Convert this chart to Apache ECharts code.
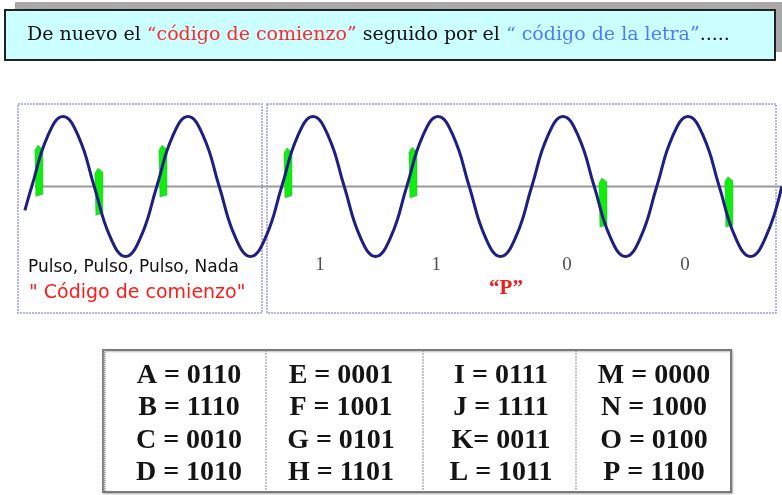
<!DOCTYPE html>
<html>
<head>
<meta charset="utf-8">
<script src="https://cdn.jsdelivr.net/npm/echarts@6/dist/echarts.min.js"></script>
<style>html,body{margin:0;padding:0;background:#fff}#c{width:782px;height:495px}</style>
</head>
<body>
<div id="c"></div>
<script>
// Carrier wave, time in quarter-cycles, amplitude normalised to 1
var waveT = [-0.22, 0,0.5,1,1.5,2,2.5,3,3.5, 4,4.5,5,5.5,6,6.5,7,7.5, 8,8.5,9,9.5,10,10.5,11,11.5,
  12,12.5,13,13.5,14,14.5,15,15.5, 16,16.5,17,17.5,18,18.5,19,19.5, 20,20.5,21,21.5,22,22.5,23,23.5, 24];
var waveV = [-0.34, 0,0.71,1,0.71,0,-0.71,-1,-0.71, 0,0.71,1,0.71,0,-0.71,-1,-0.71, 0,0.71,1,0.71,0,-0.71,-1,-0.71,
  0,0.71,1,0.71,0,-0.71,-1,-0.71, 0,0.71,1,0.71,0,-0.71,-1,-0.71, 0,0.71,1,0.71,0,-0.71,-1,-0.71, 0];
// Green pulses: start time, top value, bottom value
var pulseT   = [0.10, 2.02, 4.07, 8.07, 12.07, 18.15, 22.18];
var pulseTop = [0.59, 0.26, 0.59, 0.55, 0.56, 0.12, 0.14];
var pulseBot = [-0.14, -0.41, -0.15, -0.16, -0.16, -0.58, -0.58];
// Bits of the letter "P"
var bitT = [9.22, 12.94, 17.13, 20.9];
var bitLabels = ['1', '1', '0', '0'];
// Code table
var tableEntries = [
  ['A = 0110', 'B = 1110', 'C = 0010', 'D = 1010'],
  ['E = 0001', 'F = 1001', 'G = 0101', 'H = 1101'],
  ['I = 0111', 'J = 1111', 'K= 0011', 'L = 1011'],
  ['M = 0000', 'N = 1000', 'O = 0100', 'P = 1100']
];
var titleParts = ['De nuevo el ', '“código de comienzo”', ' seguido por el ', '“ código de la letra”', '.....'];
var startTexts = ['Pulso, Pulso, Pulso, Nada', '" Código de comienzo"'];
var letterLabel = '“P”';

var chart = echarts.init(document.getElementById('c'), null, {renderer: 'canvas'});

var waveData = waveT.map(function (t, i) { return [t, waveV[i]]; });
var pulseData = pulseT.map(function (t, i) { return [t, pulseTop[i], pulseBot[i]]; });
var bitData = bitT.map(function (t, i) { return [t, -1.12, bitLabels[i]]; });

var graphics = [];
// title shadow + box
graphics.push({type: 'rect', z: 1, shape: {x: 15, y: 2, width: 768, height: 50}, style: {fill: '#a8a8a8'}});
graphics.push({type: 'rect', z: 2, shape: {x: 5, y: 10, width: 770, height: 50}, style: {fill: '#ccffff', stroke: '#222', lineWidth: 2}});
graphics.push({type: 'text', z: 3, style: {
  x: 27, y: 35, textVerticalAlign: 'middle', verticalAlign: 'middle',
  text: '{k|' + titleParts[0] + '}{r|' + titleParts[1] + '}{k|' + titleParts[2] + '}{b|' + titleParts[3] + '}{k|' + titleParts[4] + '}',
  rich: {
    k: {fill: '#111', font: '19px "DejaVu Serif"'},
    r: {fill: '#ff2a2a', font: '19px "DejaVu Serif"'},
    b: {fill: '#4a7cff', font: '19px "DejaVu Serif"'}
  }
}});
// panels
graphics.push({type: 'rect', z: 0, shape: {x: 18, y: 104, width: 244, height: 209}, style: {fill: 'none', stroke: '#9c9ce0', lineWidth: 1.5, lineDash: [2, 1]}});
graphics.push({type: 'rect', z: 0, shape: {x: 267, y: 104, width: 509, height: 209}, style: {fill: 'none', stroke: '#9c9ce0', lineWidth: 1.5, lineDash: [2, 1]}});
graphics.push({type: 'text', z: 5, style: {x: 28, y: 268, text: startTexts[0], font: '17px "DejaVu Sans"', fill: '#111', textVerticalAlign: 'middle', verticalAlign: 'middle'}});
graphics.push({type: 'text', z: 5, style: {x: 29, y: 293, text: startTexts[1], font: '19px "DejaVu Sans"', fill: '#ff1a1a', textVerticalAlign: 'middle', verticalAlign: 'middle'}});
graphics.push({type: 'text', z: 5, style: {x: 506, y: 289, text: letterLabel, font: 'bold 21px "Liberation Serif"', fill: '#ee1c1c', textAlign: 'center', align: 'center', textVerticalAlign: 'middle', verticalAlign: 'middle'}});
// table
var tX = 103, tY = 350, tW = 628, tH = 142;
graphics.push({type: 'rect', z: 1, shape: {x: tX, y: tY, width: tW, height: tH}, style: {fill: '#fff', stroke: '#7a7a7a', lineWidth: 2, shadowColor: 'rgba(0,0,0,0.25)', shadowOffsetX: 1, shadowOffsetY: 1, shadowBlur: 2}});
graphics.push({type: 'line', z: 2, shape: {x1: tX + 1, y1: tY, x2: tX + 1, y2: tY + tH}, style: {stroke: '#999', lineWidth: 3, lineDash: [1, 1]}});
[266, 423, 576].forEach(function (x) {
  graphics.push({type: 'line', z: 2, shape: {x1: x, y1: tY, x2: x, y2: tY + tH}, style: {stroke: '#888', lineWidth: 1, lineDash: [2, 1]}});
});
var colX = [189, 341, 501, 654];
var rowY = [376, 408, 441, 473];
tableEntries.forEach(function (col, ci) {
  col.forEach(function (txt, ri) {
    graphics.push({type: 'text', z: 3, style: {x: colX[ci], y: rowY[ri], text: txt, font: 'bold 28px "Liberation Serif"', fill: '#141414', textAlign: 'center', align: 'center', textVerticalAlign: 'middle', verticalAlign: 'middle'}});
  });
});

chart.setOption({
  animation: false,
  backgroundColor: '#fff',
  grid: {left: 0, right: 0, top: 116.5, bottom: 238.5},
  xAxis: {type: 'value', min: -1.016, max: 24.008, show: false},
  yAxis: {type: 'value', min: -1, max: 1, show: false},
  graphic: graphics,
  series: [
    {
      type: 'line', z: 2, silent: true, clip: false, symbol: 'none',
      data: [[0.1, 0], [24.008, 0]],
      lineStyle: {color: '#9a9a9a', width: 2}
    },
    {
      type: 'custom', z: 3, silent: true, clip: false,
      data: pulseData,
      encode: {x: 0, y: [1, 2]},
      renderItem: function (params, api) {
        var a = api.coord([api.value(0), api.value(1)]);
        var b = api.coord([api.value(0), api.value(2)]);
        var x = a[0], yT = a[1], yB = b[1], w = 8;
        return {
          type: 'polygon',
          shape: {points: [[x, yT + 5], [x + 3, yT], [x + w, yT + 4], [x + w, yB - 2], [x + 1, yB]]},
          style: {fill: '#10ee10', stroke: '#22aa22', lineWidth: 0.5}
        };
      }
    },
    {
      type: 'line', z: 4, silent: true, clip: false, symbol: 'none', smooth: 0.45,
      data: waveData,
      lineStyle: {color: '#1f1f82', width: 3}
    },
    {
      type: 'scatter', z: 5, silent: true, clip: false, symbolSize: 0,
      data: bitData,
      label: {show: true, position: 'inside', formatter: function (p) { return p.value[2]; },
        color: '#222', fontFamily: 'Liberation Serif', fontSize: 19}
    }
  ]
});
</script>
</body>
</html>
